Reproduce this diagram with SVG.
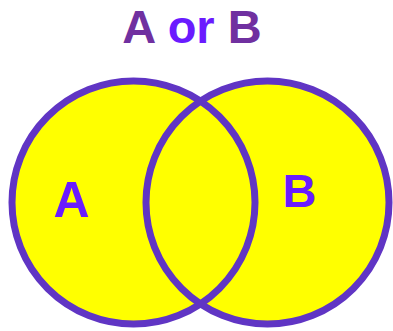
<svg xmlns="http://www.w3.org/2000/svg" width="393" height="331" viewBox="0 0 393 331">
<style>
.fill{fill:#FFFF00;stroke:none}
.ring{fill:none;stroke:#6035C4;stroke-width:7}
.t{font-family:"Liberation Sans",Arial,sans-serif;font-weight:bold;text-anchor:middle}
.purple{fill:#7030A0}
.violet{fill:#6A1BFF}
</style>
<rect width="393" height="331" fill="#ffffff"/>
<g id="fills">
<circle class="fill" cx="133.5" cy="202.5" r="121.5"/>
<circle class="fill" cx="267.5" cy="202.5" r="121.5"/>
</g>
<g id="setA">
<circle class="ring" cx="133.5" cy="202.5" r="121.5"/>
<text class="t violet" x="71.5" y="217" font-size="50">A</text>
</g>
<g id="setB">
<circle class="ring" cx="267.5" cy="202.5" r="121.5"/>
<text class="t violet" x="299.5" y="207" font-size="47">B</text>
</g>
<g id="title">
<text class="t" x="192" y="43" font-size="47"><tspan class="purple">A </tspan><tspan class="violet">or</tspan><tspan class="purple"> B</tspan></text>
</g>
</svg>
